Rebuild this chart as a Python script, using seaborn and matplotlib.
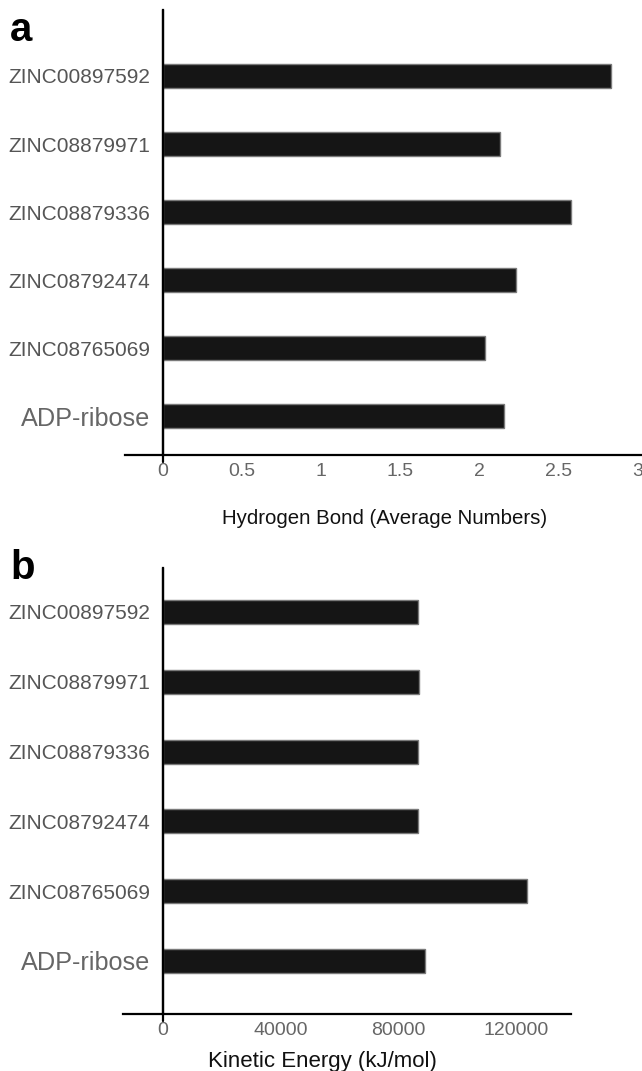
import pandas as pd
import numpy as np
import seaborn as sns
import matplotlib.pyplot as plt

# veriler
ligands = ["ZINC00897592", "ZINC08879971", "ZINC08879336",
           "ZINC08792474", "ZINC08765069", "ADP-ribose"]
hbond = [2.835, 2.13, 2.58, 2.235, 2.04, 2.16]
kinetic = [86600, 86800, 86500, 86700, 123700, 89000]

hbond_ticks = [0, 0.5, 1, 1.5, 2, 2.5, 3]
hbond_ticklabels = ["0", "0.5", "1", "1.5", "2", "2.5", "3"]
kin_ticks = [0, 40000, 80000, 120000]
kin_ticklabels = ["0", "40000", "80000", "120000"]

sns.set_style("white")
plt.rcParams["font.family"] = ["Liberation Sans", "DejaVu Sans"]

fig = plt.figure(figsize=(6.42, 10.71), dpi=100)
ax_a = fig.add_axes([0.1947, 0.5752, 0.8053, 0.4155])
ax_b = fig.add_axes([0.1916, 0.0532, 0.698, 0.4165])

df_a = pd.DataFrame({"ligand": ligands, "value": hbond})
df_b = pd.DataFrame({"ligand": ligands, "value": kinetic})


def style_panel(ax, xlim, ylim, ticks, ticklabels, xlabel, xlabel_size, label_xy,
                letter, letter_y):
    ax.set_xlim(*xlim)
    ax.set_ylim(*ylim)
    for s in ["top", "right"]:
        ax.spines[s].set_visible(False)
    ax.spines["left"].set_position(("data", 0))
    ax.spines["left"].set_linewidth(1.6)
    ax.spines["bottom"].set_linewidth(1.6)
    ax.spines["left"].set_color("black")
    ax.spines["bottom"].set_color("black")
    ax.axvline(0, ymin=-0.016, ymax=1, color="black", lw=1.6, clip_on=False)
    ax.set_xticks(ticks)
    ax.set_xticklabels(ticklabels)
    ax.tick_params(axis="x", length=0, pad=6, labelsize=14, labelcolor="#666666")
    ax.tick_params(axis="y", length=0, pad=9, labelsize=15, labelcolor="#555555")
    for t in ax.get_yticklabels():
        if t.get_text() == "ADP-ribose":
            t.set_fontsize(18.2)
            t.set_color("#666666")
    ax.set_ylabel("")
    ax.set_xlabel(xlabel, fontsize=xlabel_size, color="#111111")
    ax.xaxis.set_label_coords(*label_xy)
    fig.text(0.016, letter_y, letter, fontsize=29, fontweight="bold",
             color="black", va="center", ha="left")


sns.barplot(data=df_a, x="value", y="ligand", orient="h", color="#151515",
            edgecolor="#7a7a7a", linewidth=1, width=0.35, saturation=1, ax=ax_a)
style_panel(ax_a, (-0.24, 3.03), (5.57, -0.97), hbond_ticks, hbond_ticklabels,
            "Hydrogen Bond (Average Numbers)", 14.7, (0.503, -0.122), "a", 0.972)

sns.barplot(data=df_b, x="value", y="ligand", orient="h", color="#151515",
            edgecolor="#7a7a7a", linewidth=1, width=0.345, saturation=1, ax=ax_b)
style_panel(ax_b, (-13600, 138650), (5.76, -0.63), kin_ticks, kin_ticklabels,
            "Kinetic Energy (kJ/mol)", 16, (0.444, -0.083), "b", 0.470)

fig.savefig("out.png", dpi=100)
